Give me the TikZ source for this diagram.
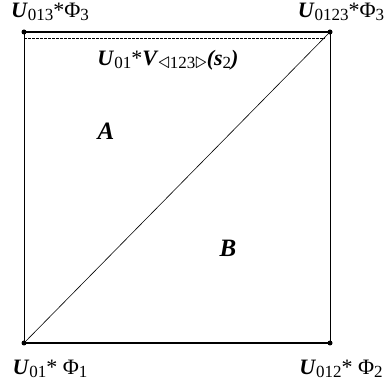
\documentclass[tikz,border=0pt]{standalone}
\usepackage{fontspec}
\setmainfont{Liberation Serif}
\usetikzlibrary{positioning}
\newcommand{\bi}[1]{\textbf{\textit{#1}}}
\newcommand{\lo}[1]{\raisebox{-2.5pt}{\fontsize{17}{17}\selectfont #1}}
\newcommand{\tril}{\scalebox{1.35}{$\triangleleft$}}
\newcommand{\trir}{\scalebox{1.35}{$\triangleright$}}

\begin{document}
\begin{tikzpicture}[x=1pt,y=-1pt,
  vertex/.style={circle,fill=black,inner sep=0pt,minimum size=5pt},
  lbl/.style={font=\fontsize{22}{22}\selectfont,inner sep=0pt,anchor=base},
  region/.style={font=\fontsize{25}{25}\selectfont\bfseries\itshape,inner sep=0pt,anchor=base}]
\useasboundingbox (0,0) rectangle (389,385);
% corners of the square
\node[vertex] (c013) at (24,32) {};
\node[vertex] (c0123) at (330,32) {};
\node[vertex] (c01) at (24,343) {};
\node[vertex] (c012) at (330,343) {};
\coordinate (d013) at (24,38);
\coordinate (d0123) at (325,38);
% edges
\draw[line width=1.2pt] (c013.center) -- (c0123.center);
\draw[line width=1.2pt] (c01.center) -- (c012.center);
\draw[line width=0.8pt] (c013.center) -- (c01.center);
\draw[line width=0.8pt] (c0123.center) -- (c012.center);
\draw[line width=0.6pt] (c01.center) -- (c0123.center);
\draw[line width=0.5pt,dashed,dash pattern=on 2.5pt off 1.5pt] (d013) -- (d0123);
% vertex labels
\node[lbl] (l013) at (50,18) {\bi{U}\lo{013}*Φ\lo{3}};
\node[lbl] (l0123) at (341,18) {\bi{U}\lo{0123}*Φ\lo{3}};
\node[lbl] (l01) at (50,375) {\bi{U}\lo{01}* Φ\lo{1}};
\node[lbl] (l012) at (341,375) {\bi{U}\lo{012}* Φ\lo{2}};
\node[lbl] (lface) at (168,66) {\bi{U}\lo{01}*\bi{V}\lo{\tril 123\trir}\bi{(s}\lo{2}\bi{)}};
% regions
\node[region] (rA) at (106,140) {A};
\node[region] (rB) at (228,257) {B};
\end{tikzpicture}
\end{document}
